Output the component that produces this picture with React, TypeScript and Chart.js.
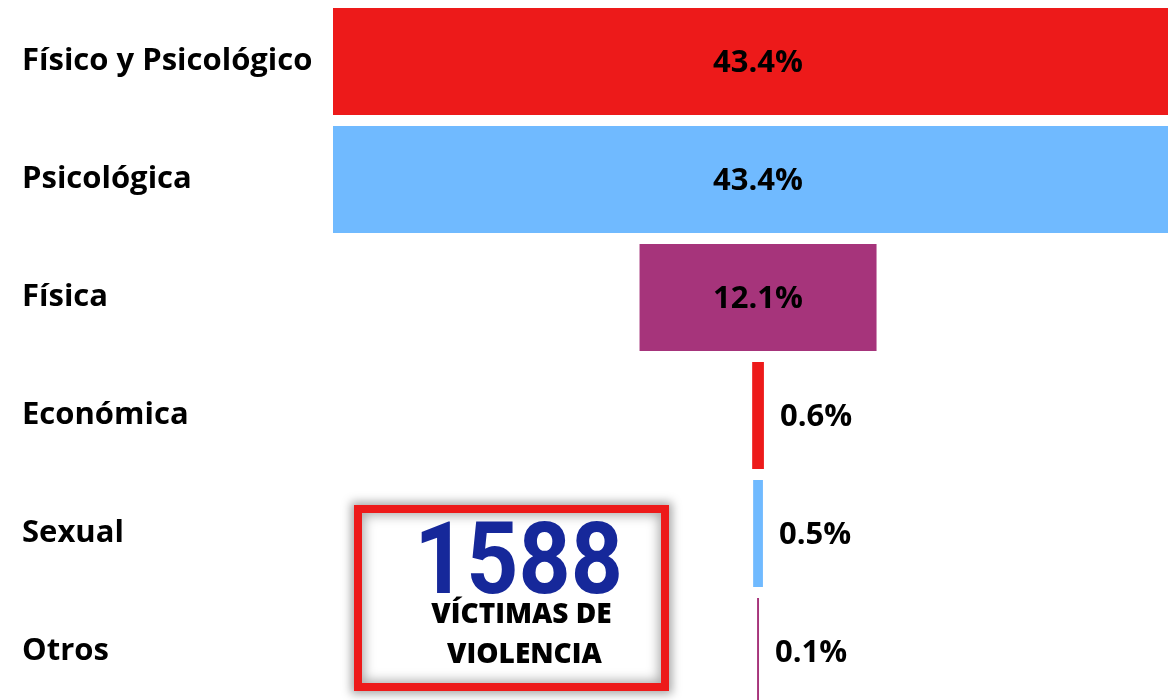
import React, { useEffect, useRef } from "react";
import { Chart, registerables } from "chart.js";

Chart.register(...registerables);

const CATEGORIES = ["Físico y Psicológico", "Psicológica", "Física", "Económica", "Sexual", "Otros"];
const VALUES = [43.4, 43.4, 12.1, 0.6, 0.5, 0.1];
const COLORS = ["#ED1A1A", "#70BAFF", "#A6347B", "#ED1A1A", "#70BAFF", "#A6347B"];
const TOTAL_VICTIMS = "1588";
const BOX_LINES = ["VÍCTIMAS DE", "VIOLENCIA"];

const MAXV = Math.max(...VALUES);
const CENTER = MAXV / 2;
const X_MAX = 42.63;

const FONT = "'Open Sans', 'Noto Sans', sans-serif";

const valueLabels = {
  id: "valueLabels",
  afterDatasetsDraw(chart: any) {
    const ctx = chart.ctx;
    const meta = chart.getDatasetMeta(0);
    ctx.save();
    ctx.font = `bold 31px ${FONT}`;
    ctx.fillStyle = "#000";
    ctx.textBaseline = "middle";
    meta.data.forEach((bar: any, i: number) => {
      const p = bar.getProps(["x", "base", "y"], true);
      const left = Math.min(p.x, p.base);
      const right = Math.max(p.x, p.base);
      const text = VALUES[i].toFixed(1) + "%";
      if (right - left > 150) {
        ctx.textAlign = "center";
        ctx.fillText(text, (left + right) / 2, p.y + 2);
      } else {
        ctx.textAlign = "left";
        ctx.fillText(text, right + 16, p.y + 2);
      }
    });
    ctx.restore();
  },
};

export default function App() {
  const ref = useRef<HTMLCanvasElement | null>(null);

  useEffect(() => {
    if (!ref.current) return;
    const chart = new Chart(ref.current, {
      type: "bar",
      data: {
        labels: CATEGORIES,
        datasets: [
          {
            data: VALUES.map((v) => [CENTER - v / 2, CENTER + v / 2]) as any,
            backgroundColor: COLORS,
            borderWidth: 0,
            barPercentage: 0.907,
            categoryPercentage: 1,
          },
        ],
      },
      options: {
        indexAxis: "y",
        animation: false,
        responsive: false,
        maintainAspectRatio: false,
        events: [],
        layout: { padding: { left: 22, right: 0, top: 2.5, bottom: 9.5 } },
        plugins: { legend: { display: false }, tooltip: { enabled: false } },
        scales: {
          x: { display: false, min: 0, max: X_MAX },
          y: {
            grid: { display: false },
            border: { display: false },
            ticks: {
              crossAlign: "far",
              color: "#000",
              font: { family: FONT, size: 31, weight: "bold" },
            },
            afterFit: (axis: any) => {
              axis.width = 311;
              axis.paddingTop = 0;
              axis.paddingBottom = 0;
            },
          },
        },
      },
      plugins: [valueLabels],
    });
    return () => chart.destroy();
  }, []);

  return (
    <div
      style={{
        position: "fixed",
        left: 0,
        top: 0,
        width: 1168,
        height: 700,
        overflow: "hidden",
        background: "#fff",
      }}
    >
      <canvas ref={ref} width={1168} height={720} style={{ display: "block" }} />
      <div
        style={{
          position: "absolute",
          left: 354,
          top: 505,
          width: 315,
          height: 186,
          boxSizing: "border-box",
          border: "8px solid #ED1A1A",
          background: "#fff",
          boxShadow: "0 0 9px 3px rgba(0,0,0,0.35), inset 0 0 12px 2px rgba(0,0,0,0.35)",
        }}
      >
        <div
          style={{
            position: "absolute",
            left: 14,
            right: 0,
            top: -9,
            textAlign: "center",
            fontFamily: "Roboto, sans-serif",
            fontWeight: 700,
            fontSize: 101,
            lineHeight: "110px",
            color: "#16289A",
            transform: "scaleX(0.9)",
          }}
        >
          {TOTAL_VICTIMS}
        </div>
        <div
          style={{
            position: "absolute",
            left: 20,
            right: 0,
            top: 79,
            textAlign: "center",
            fontFamily: FONT,
            fontWeight: 800,
            fontSize: 28,
            lineHeight: "40px",
            color: "#000",
          }}
        >
          {BOX_LINES.map((l, i) => (
            <div key={l} style={{ paddingLeft: i === 1 ? 6 : 0 }}>
              {l}
            </div>
          ))}
        </div>
      </div>
    </div>
  );
}
